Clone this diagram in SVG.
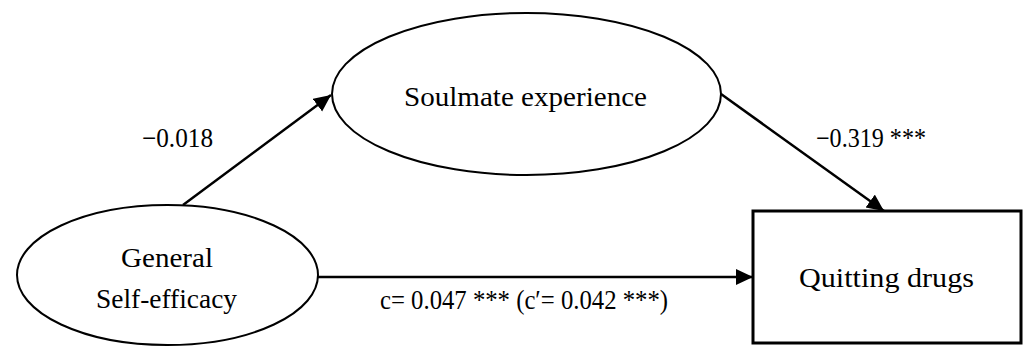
<svg xmlns="http://www.w3.org/2000/svg" width="1025" height="347" viewBox="0 0 1025 347">
<style>
.node{fill:#fff;stroke:#000;stroke-width:2}
.box{fill:#fff;stroke:#000;stroke-width:3}
.edge{stroke:#000;stroke-width:2.5;fill:none}
text{font-family:"Liberation Serif","Times New Roman",serif;font-size:27px;fill:#000}
</style>
<defs>
<marker id="arr" markerUnits="userSpaceOnUse" markerWidth="18" markerHeight="17" refX="17" refY="8" orient="auto">
<path d="M0,0 L17,8 L0,16 Z" fill="#000"/>
</marker>
</defs>
<g id="connectors">
<line class="edge" x1="183" y1="205" x2="331" y2="95" marker-end="url(#arr)"/>
<line class="edge" x1="721" y1="94" x2="884" y2="211" marker-end="url(#arr)"/>
<line class="edge" x1="318" y1="277" x2="753" y2="277" marker-end="url(#arr)"/>
<text x="142" y="147" textLength="71" lengthAdjust="spacingAndGlyphs">−0.018</text>
<text x="816" y="147" textLength="110" lengthAdjust="spacingAndGlyphs">−0.319 ***</text>
<text x="380" y="309" textLength="288" lengthAdjust="spacingAndGlyphs">c= 0.047 *** (c′= 0.042 ***)</text>
</g>
<g id="soulmate">
<ellipse class="node" cx="526.5" cy="94" rx="194.5" ry="81"/>
<text x="404" y="106" textLength="243" lengthAdjust="spacingAndGlyphs">Soulmate experience</text>
</g>
<g id="general">
<ellipse class="node" cx="167.5" cy="275" rx="150.5" ry="70"/>
<text x="121" y="267" textLength="92" lengthAdjust="spacingAndGlyphs">General</text>
<text x="96" y="308" textLength="141" lengthAdjust="spacingAndGlyphs">Self-efficacy</text>
</g>
<g id="quitting">
<rect class="box" x="753" y="211" width="268" height="132"/>
<text x="799" y="287" textLength="175" lengthAdjust="spacingAndGlyphs">Quitting drugs</text>
</g>
</svg>
